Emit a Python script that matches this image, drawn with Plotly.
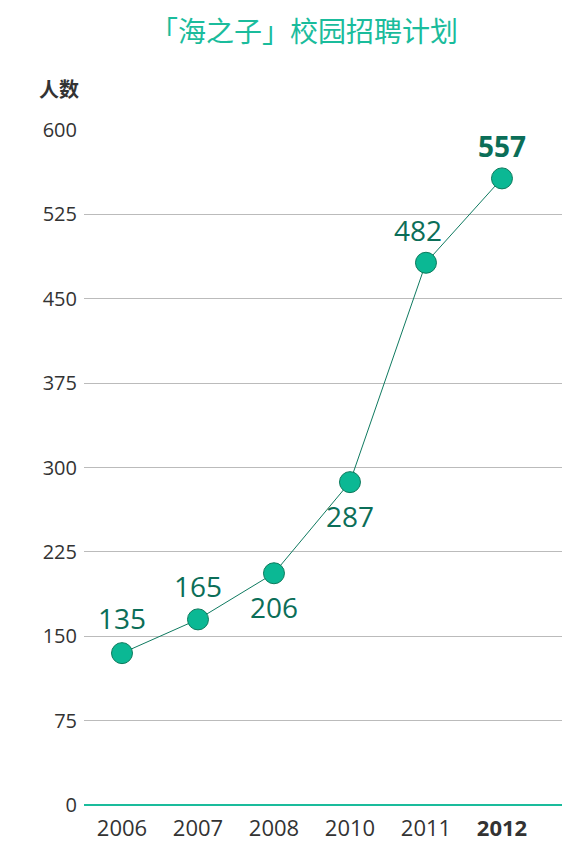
import plotly.graph_objects as go

years = ["2006", "2007", "2008", "2010", "2011", "2012"]
counts = [135, 165, 206, 287, 482, 557]
tick_vals = [0, 75, 150, 225, 300, 375, 450, 525, 600]
title_text = "「海之子」校园招聘计划"
y_title = "人数"

# label placement (style): x shift, y shift in px
label_shift = [(0, 35), (0, 33), (0, -34), (0, -34), (-8, 33), (0, 32)]

dark = "#0b6e58"

L, R, T, B = 76, 32, 122, 45
W = 586 - L - R
H = 842 - T - B

fig = go.Figure()
fig.add_trace(go.Scatter(
    x=list(range(len(years))), y=counts, mode="lines+markers",
    line=dict(color="#0f7a60", width=1),
    marker=dict(size=21, color="#0bb894", line=dict(color="#0b7a5c", width=1)),
    hoverinfo="skip", showlegend=False,
))

for i, (v, (dx, dy)) in enumerate(zip(counts, label_shift)):
    last = i == len(counts) - 1
    fig.add_annotation(
        x=i, y=v, text=f"<b>{v}</b>" if last else str(v), showarrow=False,
        xshift=dx, yshift=dy,
        font=dict(size=28, color=dark, family="Open Sans"),
    )

fig.add_annotation(
    xref="paper", yref="paper", x=(51 - L) / W, y=1 + (T - 80) / H,
    text=f"<b>{y_title}</b>", showarrow=False, yanchor="middle", xanchor="center",
    font=dict(size=20, color="#333333", family="Noto Sans CJK SC"),
)

ticktext = [f"<b>{y}</b>" if i == len(years) - 1 else y for i, y in enumerate(years)]

fig.update_layout(
    width=586, height=842,
    margin=dict(l=L, r=R, t=T, b=B),
    paper_bgcolor="white", plot_bgcolor="white",
    font=dict(family="Open Sans, Noto Sans CJK SC", color="#333333"),
    title=dict(
        text=title_text, x=296 / 586, xanchor="center", xref="container",
        y=1 - 24 / 842, yanchor="middle", yref="container",
        font=dict(size=28, color="#1abc9c", family="Noto Sans CJK SC"),
    ),
    xaxis=dict(
        tickmode="array", tickvals=list(range(len(years))), ticktext=ticktext,
        range=[-0.5, 5.79], showgrid=False, zeroline=False, showline=False,
        tickfont=dict(size=22, color="#333333"), ticklabelstandoff=8,
        automargin=False, fixedrange=True,
    ),
    yaxis=dict(
        tickmode="array", tickvals=tick_vals, range=[0, 600],
        showgrid=True, gridcolor="#bbbbbb", gridwidth=1,
        zeroline=True, zerolinecolor="#1abc9c", zerolinewidth=2,
        showline=False, tickfont=dict(size=20, color="#333333"),
        ticklabelstandoff=6, automargin=False, fixedrange=True,
    ),
)

fig.write_html("out.html")
